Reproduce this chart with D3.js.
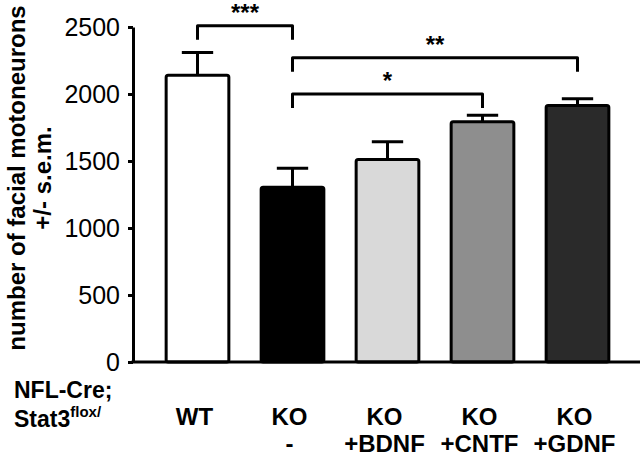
<!DOCTYPE html>
<html>
<head>
<meta charset="utf-8">
<script src="https://cdn.jsdelivr.net/npm/d3@7"></script>
<style>
  html, body { margin: 0; padding: 0; background: #fff; }
  svg { display: block; font-family: "Liberation Sans", Arial, sans-serif; }
</style>
</head>
<body>
<svg id="chart" width="640" height="458"></svg>
<script>
// ---- data ----
const groups = ["WT", "KO -", "KO +BDNF", "KO +CNTF", "KO +GDNF"];
const labelLine1 = ["WT", "KO", "KO", "KO", "KO"];
const labelLine2 = ["", "-", "+BDNF", "+CNTF", "+GDNF"];
const means = [2140, 1305, 1512, 1792, 1915];
const sems = [170, 140, 132, 50, 50];
const fills = ["#ffffff", "#000000", "#d9d9d9", "#8e8e8e", "#2a2a2a"];
const yTicks = [0, 500, 1000, 1500, 2000, 2500];
const sigFrom = ["WT", "KO -", "KO -"];
const sigTo = ["KO -", "KO +GDNF", "KO +CNTF"];
const sigText = ["***", "**", "*"];
const sigLevel = [2510, 2270, 2000];

// ---- layout ----
const svg = d3.select("#chart");
const x = d3.scaleBand().domain(groups).range([150, 625]).paddingInner(0.34).paddingOuter(0.17);
const y = d3.scaleLinear().domain([0, 2500]).range([362, 27]);
const axisX = 133;

// bars
svg.append("g").selectAll("rect").data(groups).join("rect")
  .attr("x", d => x(d))
  .attr("y", (d, i) => y(means[i]))
  .attr("width", x.bandwidth())
  .attr("height", (d, i) => y(0) - y(means[i]))
  .attr("rx", 2)
  .attr("fill", (d, i) => fills[i])
  .attr("stroke", "#000")
  .attr("stroke-width", 3);

// error bars
const eb = svg.append("g").attr("stroke", "#000").attr("stroke-width", 3);
groups.forEach((g, i) => {
  const cx = x(g) + x.bandwidth() / 2;
  eb.append("line").attr("x1", cx).attr("x2", cx)
    .attr("y1", y(means[i])).attr("y2", y(means[i] + sems[i]));
  eb.append("line").attr("x1", cx - x.bandwidth() / 4).attr("x2", cx + x.bandwidth() / 4)
    .attr("y1", y(means[i] + sems[i])).attr("y2", y(means[i] + sems[i]));
});

// y axis
const yAxis = svg.append("g").attr("transform", `translate(${axisX},0)`)
  .call(d3.axisLeft(y).tickValues(yTicks).tickFormat(d3.format("d"))
    .tickSize(5).tickSizeOuter(0).tickPadding(8));
yAxis.select(".domain").attr("stroke-width", 3).attr("stroke", "#000");
yAxis.selectAll(".tick line").attr("stroke-width", 3).attr("stroke", "#000");
yAxis.selectAll(".tick text").attr("font-size", 25).attr("fill", "#000")
  .attr("font-family", "Liberation Sans, Arial, sans-serif");

// x axis baseline
svg.append("line").attr("x1", axisX - 1.5).attr("x2", 640)
  .attr("y1", y(0)).attr("y2", y(0))
  .attr("stroke", "#000").attr("stroke-width", 3);

// y title
const yt = svg.append("g").attr("transform", "translate(0,178) rotate(-90)");
yt.append("text").attr("x", 0).attr("y", 25).attr("text-anchor", "middle")
  .attr("font-size", 24).attr("font-weight", "bold").text("number of facial motoneurons");
yt.append("text").attr("x", 0).attr("y", 51).attr("text-anchor", "middle")
  .attr("font-size", 24).attr("font-weight", "bold").text("+/- s.e.m.");

// group labels
const gl = svg.append("g").attr("font-size", 24).attr("font-weight", "bold").attr("text-anchor", "middle");
groups.forEach((g, i) => {
  const cx = x(g) + x.bandwidth() / 2 - 3;
  gl.append("text").attr("x", cx).attr("y", 425).text(labelLine1[i]);
  gl.append("text").attr("x", cx).attr("y", 452).text(labelLine2[i]);
});

// row label
const rl = svg.append("g").attr("font-weight", "bold");
rl.append("text").attr("x", 14).attr("y", 398).attr("font-size", 23).text("NFL-Cre;");
const st = rl.append("text").attr("x", 14).attr("y", 427).attr("font-size", 23);
st.append("tspan").text("Stat3");
st.append("tspan").attr("font-size", 15).attr("dy", -10).text("flox/");

// significance brackets
const sg = svg.append("g");
sigText.forEach((t, i) => {
  const x1 = x(sigFrom[i]) + x.bandwidth() / 2;
  const x2 = x(sigTo[i]) + x.bandwidth() / 2;
  const yb = y(sigLevel[i]);
  const legY = y(sigLevel[i]) + 14;
  sg.append("path")
    .attr("d", `M${x1},${legY}V${yb}H${x2}V${legY}`)
    .attr("fill", "none").attr("stroke", "#000").attr("stroke-width", 3)
    .attr("stroke-linejoin", "round");
  sg.append("text").attr("x", (x1 + x2) / 2).attr("y", yb - 5)
    .attr("text-anchor", "middle").attr("font-size", 24).attr("font-weight", "bold").text(t);
});
</script>
</body>
</html>
